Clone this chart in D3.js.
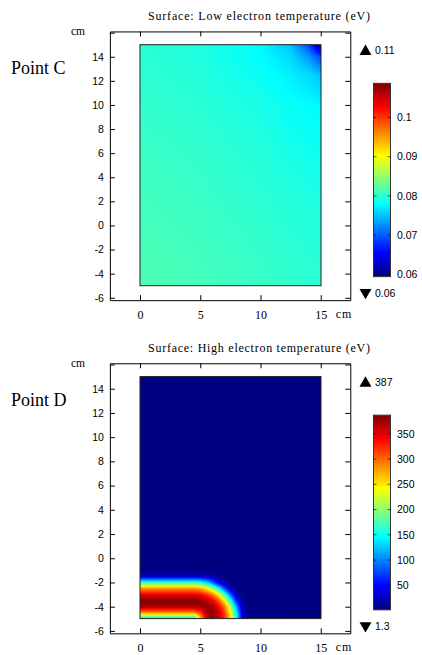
<!DOCTYPE html>
<html lang="en">
<head>
<meta charset="utf-8">
<style>
  body { margin: 0; background: white; }
  svg { display: block; background: white; }
  .serif { font-family: "Liberation Serif", "Times New Roman", serif; fill: #000; }
  .sans { font-family: "Liberation Sans", Arial, sans-serif; fill: #000; }
</style>
</head>
<body>
<svg id="chart" width="422" height="655"></svg>
<script src="https://d3js.org/d3.v7.min.js"></script>
<script>
// ---- data ----
const xTickVals = [0, 5, 10, 15];
const yTickVals = [-6, -4, -2, 0, 2, 4, 6, 8, 10, 12, 14, 16]; // 16 carries the "cm" unit instead of a label

// Point C: low electron temperature (eV), sampled on a coarse node grid
const lowXNodes = [0, 5, 10, 12.5, 14, 15];
const lowYNodes = [-5, 0, 5, 10, 12.5, 14, 15];
const lowValues = [
  [0.0816, 0.0812, 0.0806, 0.0803, 0.0801, 0.0800],
  [0.0812, 0.0808, 0.0802, 0.0798, 0.0796, 0.0795],
  [0.0808, 0.0804, 0.0797, 0.0792, 0.0789, 0.0788],
  [0.0803, 0.0799, 0.0790, 0.0782, 0.0778, 0.0776],
  [0.0801, 0.0796, 0.0783, 0.0772, 0.0762, 0.0750],
  [0.0800, 0.0794, 0.0779, 0.0762, 0.0730, 0.0690],
  [0.0799, 0.0793, 0.0777, 0.0750, 0.0690, 0.0598]
];
const lowRange = [0.0594, 0.1087];
const lowBarTicks = [0.06, 0.07, 0.08, 0.09, 0.1];
const lowMax = "0.11", lowMin = "0.06";

// Point D: high electron temperature (eV)
const highXNodes = [0, 4.5, 5, 5.5, 6, 6.5, 7, 7.5, 8, 8.5, 9, 15];
const highYNodes = [-5, -4.5, -4, -3.5, -3, -2.5, -2, -1.5, -1, 15];
const highValues = [
  [130, 130, 265, 348, 380, 366, 324, 259, 153, 36, 6.3, 1.3],
  [285, 285, 313, 370, 383, 361, 317, 247, 142, 29, 4.5, 1.3],
  [370, 370, 373, 380, 374, 344, 298, 214, 110, 23, 1.3, 1.3],
  [386, 386, 381, 367, 346, 309, 251, 162, 59, 13.5, 1.3, 1.3],
  [345, 345, 339, 323, 299, 249, 176, 88, 22, 1.3, 1.3, 1.3],
  [285, 285, 276, 250, 208, 153, 80, 23.5, 4.9, 1.3, 1.3, 1.3],
  [165, 165, 157, 132, 92, 39, 18, 2.7, 1.3, 1.3, 1.3, 1.3],
  [30, 30, 28.5, 24, 16.5, 6.6, 1.3, 1.3, 1.3, 1.3, 1.3, 1.3],
  [1.3, 1.3, 1.3, 1.3, 1.3, 1.3, 1.3, 1.3, 1.3, 1.3, 1.3, 1.3],
  [1.3, 1.3, 1.3, 1.3, 1.3, 1.3, 1.3, 1.3, 1.3, 1.3, 1.3, 1.3]
];
const highRange = [1.3, 387];
const highBarTicks = [50, 100, 150, 200, 250, 300, 350];
const highMax = "387", highMin = "1.3";

// ---- drawing ----
const svg = d3.select("#chart");

function jet(t) {
  const c = v => Math.max(0, Math.min(1, v));
  return [c(1.5 - Math.abs(4 * t - 3)), c(1.5 - Math.abs(4 * t - 2)), c(1.5 - Math.abs(4 * t - 1))]
    .map(v => Math.round(v * 255));
}

// bilinear lookup between the sampled nodes
function sampler(xs, ys, grid) {
  const cl = (v, a, b) => Math.max(a, Math.min(b, v));
  return function (xv, yv) {
    const i = cl(d3.bisectRight(xs, xv) - 1, 0, xs.length - 2);
    const j = cl(d3.bisectRight(ys, yv) - 1, 0, ys.length - 2);
    const tx = cl((xv - xs[i]) / (xs[i + 1] - xs[i]), 0, 1);
    const ty = cl((yv - ys[j]) / (ys[j + 1] - ys[j]), 0, 1);
    return grid[j][i] * (1 - tx) * (1 - ty) + grid[j][i + 1] * tx * (1 - ty) +
      grid[j + 1][i] * (1 - tx) * ty + grid[j + 1][i + 1] * tx * ty;
  };
}

const panels = [
  { title: "Surface: Low electron temperature (eV)", label: "Point C", yRange: [285.7, 44.7],
    xs: lowXNodes, ys: lowYNodes, grid: lowValues, range: lowRange, barTicks: lowBarTicks,
    maxText: lowMax, minText: lowMin },
  { title: "Surface: High electron temperature (eV)", label: "Point D", yRange: [618.8, 376.6],
    xs: highXNodes, ys: highYNodes, grid: highValues, range: highRange, barTicks: highBarTicks,
    maxText: highMax, minText: highMin }
];

const defs = svg.append("defs");
const grad = defs.append("linearGradient").attr("id", "jet")
  .attr("x1", 0).attr("y1", 1).attr("x2", 0).attr("y2", 0);
[0, 0.125, 0.375, 0.625, 0.875, 1].forEach(t => {
  const c = jet(t);
  grad.append("stop").attr("offset", t).attr("stop-color", `rgb(${c[0]},${c[1]},${c[2]})`);
});

panels.forEach(p => {
  const g = svg.append("g");
  const x = d3.scaleLinear().domain([0, 15]).range([140, 320.75]);
  const y = d3.scaleLinear().domain([-5, 15]).range(p.yRange);
  const xf = x.copy().domain([-2.5, 17.45]).range([x(-2.5), x(17.45)]);
  const yf = y.copy().domain([-6.2, 16.1]).range([y(-6.2), y(16.1)]);
  const top = yf(16.1), bottom = yf(-6.2);

  // surface
  const w = Math.round(x(15) - x(0)), h = Math.round(y(-5) - y(15));
  const canvas = document.createElement("canvas");
  canvas.width = w; canvas.height = h;
  const ctx = canvas.getContext("2d");
  const img = ctx.createImageData(w, h);
  const f = sampler(p.xs, p.ys, p.grid);
  const tScale = d3.scaleLinear().domain(p.range).range([0, 1]).clamp(true);
  for (let j = 0; j < h; j++) {
    const yv = y.invert(y(15) + j + 0.5);
    for (let i = 0; i < w; i++) {
      const xv = x.invert(x(0) + i + 0.5);
      const c = jet(tScale(f(xv, yv)));
      const k = (j * w + i) * 4;
      img.data[k] = c[0]; img.data[k + 1] = c[1]; img.data[k + 2] = c[2]; img.data[k + 3] = 255;
    }
  }
  ctx.putImageData(img, 0, 0);
  g.append("image").attr("href", canvas.toDataURL())
    .attr("x", x(0)).attr("y", y(15)).attr("width", w).attr("height", h);
  g.append("rect").attr("x", x(0)).attr("y", y(15)).attr("width", w).attr("height", h)
    .attr("fill", "none").attr("stroke", "#222").attr("stroke-width", 1);

  // axes on the frame
  const left = g.append("g").attr("transform", `translate(${xf(-2.5)},0)`)
    .call(d3.axisLeft(yf).tickValues(yTickVals).tickSizeInner(-5).tickSizeOuter(0).tickPadding(6)
      .tickFormat(d => d === 16 ? "" : String(d)));
  left.attr("font-family", "Liberation Sans, Arial, sans-serif").attr("font-size", 10.5);
  g.append("g").attr("transform", `translate(${xf(17.45)},0)`)
    .call(d3.axisRight(yf).tickValues(yTickVals).tickSizeInner(-5).tickSizeOuter(0).tickFormat(""));
  g.append("g").attr("transform", `translate(0,${top})`)
    .call(d3.axisTop(xf).tickValues(xTickVals).tickSizeInner(-5).tickSizeOuter(0).tickFormat(""));
  const bot = g.append("g").attr("transform", `translate(0,${bottom})`)
    .call(d3.axisBottom(xf).tickValues(xTickVals).tickSizeInner(-5).tickSizeOuter(0).tickPadding(10)
      .tickFormat(d => String(d)));
  bot.attr("font-family", "Liberation Serif, Times New Roman, serif").attr("font-size", 12);
  g.selectAll(".domain").attr("stroke", "#000");

  // texts
  g.append("text").attr("class", "serif").attr("x", 259).attr("y", top - 11.5)
    .attr("text-anchor", "middle").attr("font-size", 12)
    .attr("textLength", 222).attr("lengthAdjust", "spacing").text(p.title);
  g.append("text").attr("class", "serif").attr("x", 78).attr("y", top + 3.5)
    .attr("text-anchor", "middle").attr("font-size", 11.5).text("cm");
  g.append("text").attr("class", "serif").attr("x", 344).attr("y", bottom + 18)
    .attr("text-anchor", "middle").attr("font-size", 12).attr("letter-spacing", 1).text("cm");
  g.append("text").attr("class", "serif").attr("x", 11).attr("y", top + 42.5)
    .attr("font-size", 18).text(p.label);

  // colour bar
  const bar = d3.scaleLinear().domain(p.range).range([bottom - 23.5, top + 51.9]);
  g.append("rect").attr("x", 373.5).attr("y", bar(p.range[1])).attr("width", 17)
    .attr("height", bar(p.range[0]) - bar(p.range[1]))
    .attr("fill", "url(#jet)").attr("stroke", "#333").attr("stroke-width", 1);
  const bt = g.append("g").selectAll("g").data(p.barTicks).join("g")
    .attr("transform", d => `translate(0,${bar(d)})`);
  bt.append("line").attr("x1", 373.5).attr("x2", 376.5).attr("stroke", "#000").attr("stroke-opacity", 0.6);
  bt.append("line").attr("x1", 387.5).attr("x2", 390.5).attr("stroke", "#000").attr("stroke-opacity", 0.6);
  bt.append("text").attr("class", "sans").attr("x", 397).attr("dy", "0.36em")
    .attr("font-size", 10.5).text(d => String(d));

  // max / min markers
  const tri = d3.symbol().type(d3.symbolTriangle).size(62);
  const yMax = top + 19, yMin = bottom - 6.7;
  g.append("path").attr("d", tri()).attr("transform", `translate(365.5,${yMax + 1})`).attr("fill", "#000");
  g.append("path").attr("d", tri()).attr("transform", `translate(365.5,${yMin - 1}) rotate(180)`).attr("fill", "#000");
  g.append("text").attr("class", "sans").attr("x", 375).attr("y", yMax).attr("dy", "0.36em")
    .attr("font-size", 10.5).text(p.maxText);
  g.append("text").attr("class", "sans").attr("x", 375).attr("y", yMin).attr("dy", "0.36em")
    .attr("font-size", 10.5).text(p.minText);
});
</script>
</body>
</html>
